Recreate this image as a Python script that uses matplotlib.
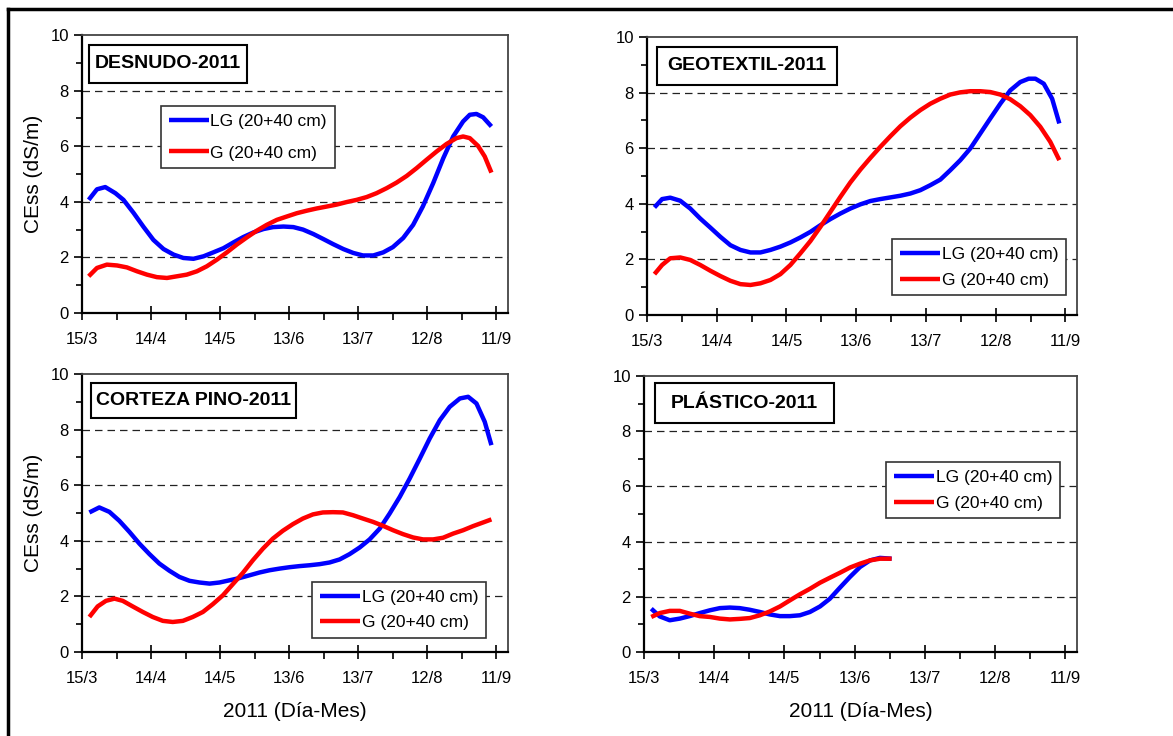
import numpy as np
import matplotlib
matplotlib.use("Agg")
import matplotlib.pyplot as plt
from matplotlib.lines import Line2D
from matplotlib.patches import Rectangle

plt.rcParams["font.family"] = ["Liberation Sans", "DejaVu Sans"]

# x values: days since 15/3/2011
tick_days = [0, 30, 60, 90, 120, 150, 180]
tick_labels = ["15/3", "14/4", "14/5", "13/6", "13/7", "12/8", "11/9"]
titles = ["DESNUDO-2011", "GEOTEXTIL-2011", "CORTEZA PINO-2011", "PLÁSTICO-2011"]
series_labels = ["LG (20+40 cm)", "G (20+40 cm)"]

# DESNUDO
des_lg_x = [2.9, 6.5, 10.1, 14.5, 18, 22.4, 26.7, 31, 35.4, 39.8, 44, 48.4, 52.8, 57, 61.4, 65.8,
            70, 74.5, 78.8, 83, 87.5, 91.8, 96, 100.5, 104.8, 109, 113.5, 117.8, 122, 126.5, 130.8,
            135, 139.5, 143.8, 148, 152.5, 156.9, 161.2, 165.5, 168.4, 171.3, 174.2, 177.8]
des_lg_y = [4.07, 4.45, 4.53, 4.31, 4.07, 3.6, 3.1, 2.63, 2.3, 2.1, 1.98, 1.95, 2.04, 2.18, 2.33, 2.54,
            2.73, 2.9, 3.02, 3.09, 3.11, 3.09, 3.0, 2.84, 2.66, 2.48, 2.3, 2.16, 2.07, 2.07, 2.18,
            2.37, 2.7, 3.17, 3.83, 4.67, 5.57, 6.35, 6.89, 7.13, 7.16, 7.04, 6.71]
des_g_x = [2.9, 6.5, 10.8, 15.2, 19.5, 23.9, 28.2, 32.5, 36.9, 41.2, 45.5, 49.9, 54.2, 58.6, 62.9,
           67.2, 71.6, 75.9, 80.2, 84.6, 88.9, 93.3, 97.6, 101.9, 106.3, 110.6, 114.9, 119.3, 123.6,
           127.9, 132.3, 136.6, 141, 145.3, 149.6, 154, 158.3, 162.6, 165.5, 168.4, 172, 174.9, 177.8]
des_g_y = [1.32, 1.62, 1.74, 1.71, 1.64, 1.5, 1.38, 1.29, 1.26, 1.32, 1.38, 1.5, 1.68, 1.92, 2.18,
           2.46, 2.72, 2.96, 3.17, 3.35, 3.47, 3.59, 3.68, 3.76, 3.83, 3.9, 3.99, 4.07, 4.17,
           4.31, 4.49, 4.69, 4.93, 5.21, 5.51, 5.81, 6.08, 6.29, 6.35, 6.29, 6.01, 5.63, 5.05]

# GEOTEXTIL
geo_lg_x = [3.2, 6.5, 10, 14.3, 18.6, 22.9, 27.3, 31.6, 35.9, 40.2, 44.5, 48.8, 53.1, 57.4, 61.7,
            66, 70.3, 74.6, 78.9, 83.2, 87.5, 91.8, 96.1, 100.4, 104.7, 109, 113.3, 117.6, 121.9,
            126.2, 130.5, 134.8, 139.1, 143.4, 147.7, 152, 156.3, 160.6, 164.2, 167.1, 170.7,
            174.3, 177.4]
geo_lg_y = [3.87, 4.17, 4.22, 4.11, 3.83, 3.47, 3.14, 2.81, 2.51, 2.34, 2.25, 2.25, 2.34, 2.46, 2.61,
            2.79, 2.99, 3.23, 3.45, 3.65, 3.83, 3.98, 4.1, 4.17, 4.23, 4.29, 4.37, 4.49, 4.67,
            4.87, 5.21, 5.57, 5.99, 6.53, 7.07, 7.6, 8.08, 8.38, 8.5, 8.5, 8.32, 7.78, 6.89]
geo_g_x = [3.2, 6.5, 10, 14.3, 18.6, 22.9, 27.3, 31.6, 35.9, 40.2, 44.5, 48.8, 53.1, 57.4, 61.7,
           66, 70.3, 74.6, 78.9, 83.2, 87.5, 91.8, 96.1, 100.4, 104.7, 109, 113.3, 117.6, 121.9,
           126.2, 130.5, 134.8, 139.1, 143.4, 147.7, 152, 156.3, 160.6, 164.9, 169.2, 173.5, 177.4]
geo_g_y = [1.47, 1.8, 2.04, 2.07, 1.98, 1.8, 1.59, 1.4, 1.23, 1.11, 1.08, 1.14, 1.26, 1.47, 1.8,
           2.22, 2.66, 3.17, 3.71, 4.25, 4.77, 5.23, 5.65, 6.05, 6.43, 6.79, 7.1, 7.37, 7.6,
           7.78, 7.93, 8.01, 8.05, 8.05, 8.02, 7.93, 7.76, 7.51, 7.19, 6.77, 6.23, 5.57]

# CORTEZA PINO
cor_lg_x = [3.2, 7.5, 11.9, 16.2, 20.6, 24.9, 29.3, 33.6, 38, 42.3, 46.7, 51, 55.4, 59.7, 64.1,
            68.4, 72.8, 77.1, 81.4, 85.8, 90.1, 94.5, 98.8, 103.2, 107.5, 111.9, 116.2, 120.6,
            124.9, 129.3, 133.6, 138, 142.3, 146.7, 151, 155.4, 159.7, 164.1, 167.7, 171.3,
            174.9, 177.8]
cor_lg_y = [5.02, 5.2, 5.04, 4.72, 4.32, 3.9, 3.52, 3.18, 2.92, 2.7, 2.56, 2.5, 2.46, 2.5, 2.58,
            2.66, 2.76, 2.86, 2.94, 3.0, 3.05, 3.09, 3.12, 3.16, 3.22, 3.33, 3.52, 3.76,
            4.05, 4.44, 4.98, 5.58, 6.24, 6.96, 7.68, 8.34, 8.82, 9.12, 9.18, 8.94, 8.28, 7.44]
cor_g_x = [3.2, 6.8, 10.4, 14.1, 17.7, 22, 26.4, 30.7, 35.1, 39.4, 43.8, 48.1, 52.5, 56.8, 61.2,
           65.5, 69.9, 74.2, 78.6, 82.9, 87.2, 91.6, 95.9, 100.3, 104.6, 109, 113.3, 117.7, 122,
           126.4, 130.7, 135.1, 139.4, 143.8, 148.1, 152.5, 156.8, 161.2, 165.5, 169.9, 174.2, 177.8]
cor_g_y = [1.26, 1.64, 1.84, 1.92, 1.84, 1.64, 1.44, 1.26, 1.12, 1.08, 1.12, 1.26, 1.44, 1.72, 2.04,
           2.44, 2.85, 3.3, 3.72, 4.08, 4.36, 4.6, 4.8, 4.95, 5.02, 5.03, 5.02, 4.92, 4.8,
           4.68, 4.54, 4.38, 4.24, 4.12, 4.05, 4.05, 4.11, 4.26, 4.38, 4.53, 4.66, 4.77]

# PLASTICO
pla_x = [3.1, 6.7, 11, 15.3, 19.5, 23.8, 28.1, 32.4, 36.7, 40.9, 45.2, 49.5, 53.8, 58.1, 62.3,
         66.6, 70.9, 75.2, 79.4, 83.7, 88, 92.3, 96.6, 100.8, 105.8]
pla_lg_y = [1.57, 1.29, 1.15, 1.21, 1.3, 1.41, 1.51, 1.59, 1.61, 1.59, 1.53, 1.45, 1.36, 1.3, 1.3,
            1.33, 1.45, 1.65, 1.93, 2.33, 2.72, 3.08, 3.32, 3.41, 3.38]
pla_g_y = [1.27, 1.41, 1.49, 1.49, 1.39, 1.3, 1.27, 1.21, 1.18, 1.2, 1.23, 1.33, 1.47, 1.65, 1.87,
           2.09, 2.29, 2.51, 2.69, 2.87, 3.06, 3.2, 3.32, 3.38, 3.38]

panels = [
    (des_lg_x, des_lg_y, des_g_x, des_g_y),
    (geo_lg_x, geo_lg_y, geo_g_x, geo_g_y),
    (cor_lg_x, cor_lg_y, cor_g_x, cor_g_y),
    (pla_x, pla_lg_y, pla_x, pla_g_y),
]

W, H = 1173, 736
fig = plt.figure(figsize=(W / 100, H / 100), dpi=100)

# axes boxes in pixels: left, top, right, bottom
ax_px = [(82, 35, 508, 313), (647, 37, 1077, 315), (82, 374, 508, 652), (644, 376, 1077, 652)]
# title boxes in pixels: left, top, right, bottom
title_px = [(89, 45, 247, 83), (657, 47, 837, 85), (91, 383, 296, 418), (655, 383, 834, 423)]
# legend anchor (upper-left corner, axes fraction) and row spacing
leg_anchor = [(0.185, 0.745), (0.57, 0.273), (0.54, 0.252), (0.559, 0.688)]
leg_spacing = [0.95, 0.6, 0.6, 0.6]

for i, (lx, ly, gx, gy) in enumerate(panels):
    l, t, r, b = ax_px[i]
    ax = fig.add_axes([l / W, 1 - b / H, (r - l) / W, (b - t) / H])
    ax.plot(lx, ly, color="#0000ff", lw=3.2, solid_capstyle="butt", label=series_labels[0], zorder=3)
    ax.plot(gx, gy, color="#ff0000", lw=3.2, solid_capstyle="butt", label=series_labels[1], zorder=3)
    ax.set_xlim(0, 185)
    ax.set_ylim(0, 10)
    ax.set_xticks(tick_days)
    ax.set_xticklabels(tick_labels)
    ax.set_xticks(np.arange(15, 185, 30), minor=True)
    ax.set_yticks([0, 2, 4, 6, 8, 10])
    ax.set_yticks(np.arange(1, 10, 2), minor=True)
    ax.tick_params(axis="x", which="major", direction="inout", length=10, width=1.2, labelsize=12, pad=9)
    ax.tick_params(axis="x", which="minor", direction="out", length=5, width=1.2)
    ax.tick_params(axis="y", which="major", direction="out", length=6, width=1.2, labelsize=12)
    ax.tick_params(axis="y", which="minor", direction="out", length=4, width=1.2)
    for yv in [2, 4, 6, 8]:
        ax.axhline(yv, color="#222222", lw=0.9, ls=(0, (6, 4)), zorder=1)
    for s in ["left", "bottom"]:
        ax.spines[s].set_linewidth(1.6)
        ax.spines[s].set_color("black")
    for s in ["top", "right"]:
        ax.spines[s].set_linewidth(1.3)
        ax.spines[s].set_color("#444444")
    if i in (0, 2):
        ax.set_ylabel("CEss (dS/m)", fontsize=15, labelpad=5)
    if i in (2, 3):
        ax.set_xlabel("2011 (Día-Mes)", fontsize=15, labelpad=11)

    # boxed panel title
    tl, tt, tr, tb = title_px[i]
    fx0 = (tl - l) / (r - l)
    fx1 = (tr - l) / (r - l)
    fy0 = (b - tb) / (b - t)
    fy1 = (b - tt) / (b - t)
    ax.add_patch(Rectangle((fx0, fy0), fx1 - fx0, fy1 - fy0, transform=ax.transAxes,
                           facecolor="white", edgecolor="black", lw=1.5, zorder=5))
    ax.text((fx0 + fx1) / 2, (fy0 + fy1) / 2, titles[i], transform=ax.transAxes,
            ha="center", va="center", fontsize=14, fontweight="bold", zorder=6)

    leg = ax.legend(loc="upper left", bbox_to_anchor=leg_anchor[i], borderaxespad=0,
                    fontsize=12.5, frameon=True, fancybox=False, handlelength=2.3,
                    handletextpad=0.1, borderpad=0.45, labelspacing=leg_spacing[i], framealpha=1)
    leg.get_frame().set_edgecolor("#333333")
    leg.get_frame().set_linewidth(1.2)
    leg.set_zorder(7)

# outer frame (left and top edges visible)
fig.add_artist(Line2D([8 / W, 8 / W], [0, 1 - 9 / H], color="black", lw=2.5, transform=fig.transFigure))
fig.add_artist(Line2D([8 / W, 1], [1 - 9 / H, 1 - 9 / H], color="black", lw=2.5, transform=fig.transFigure))

fig.savefig("out.png", dpi=100)
